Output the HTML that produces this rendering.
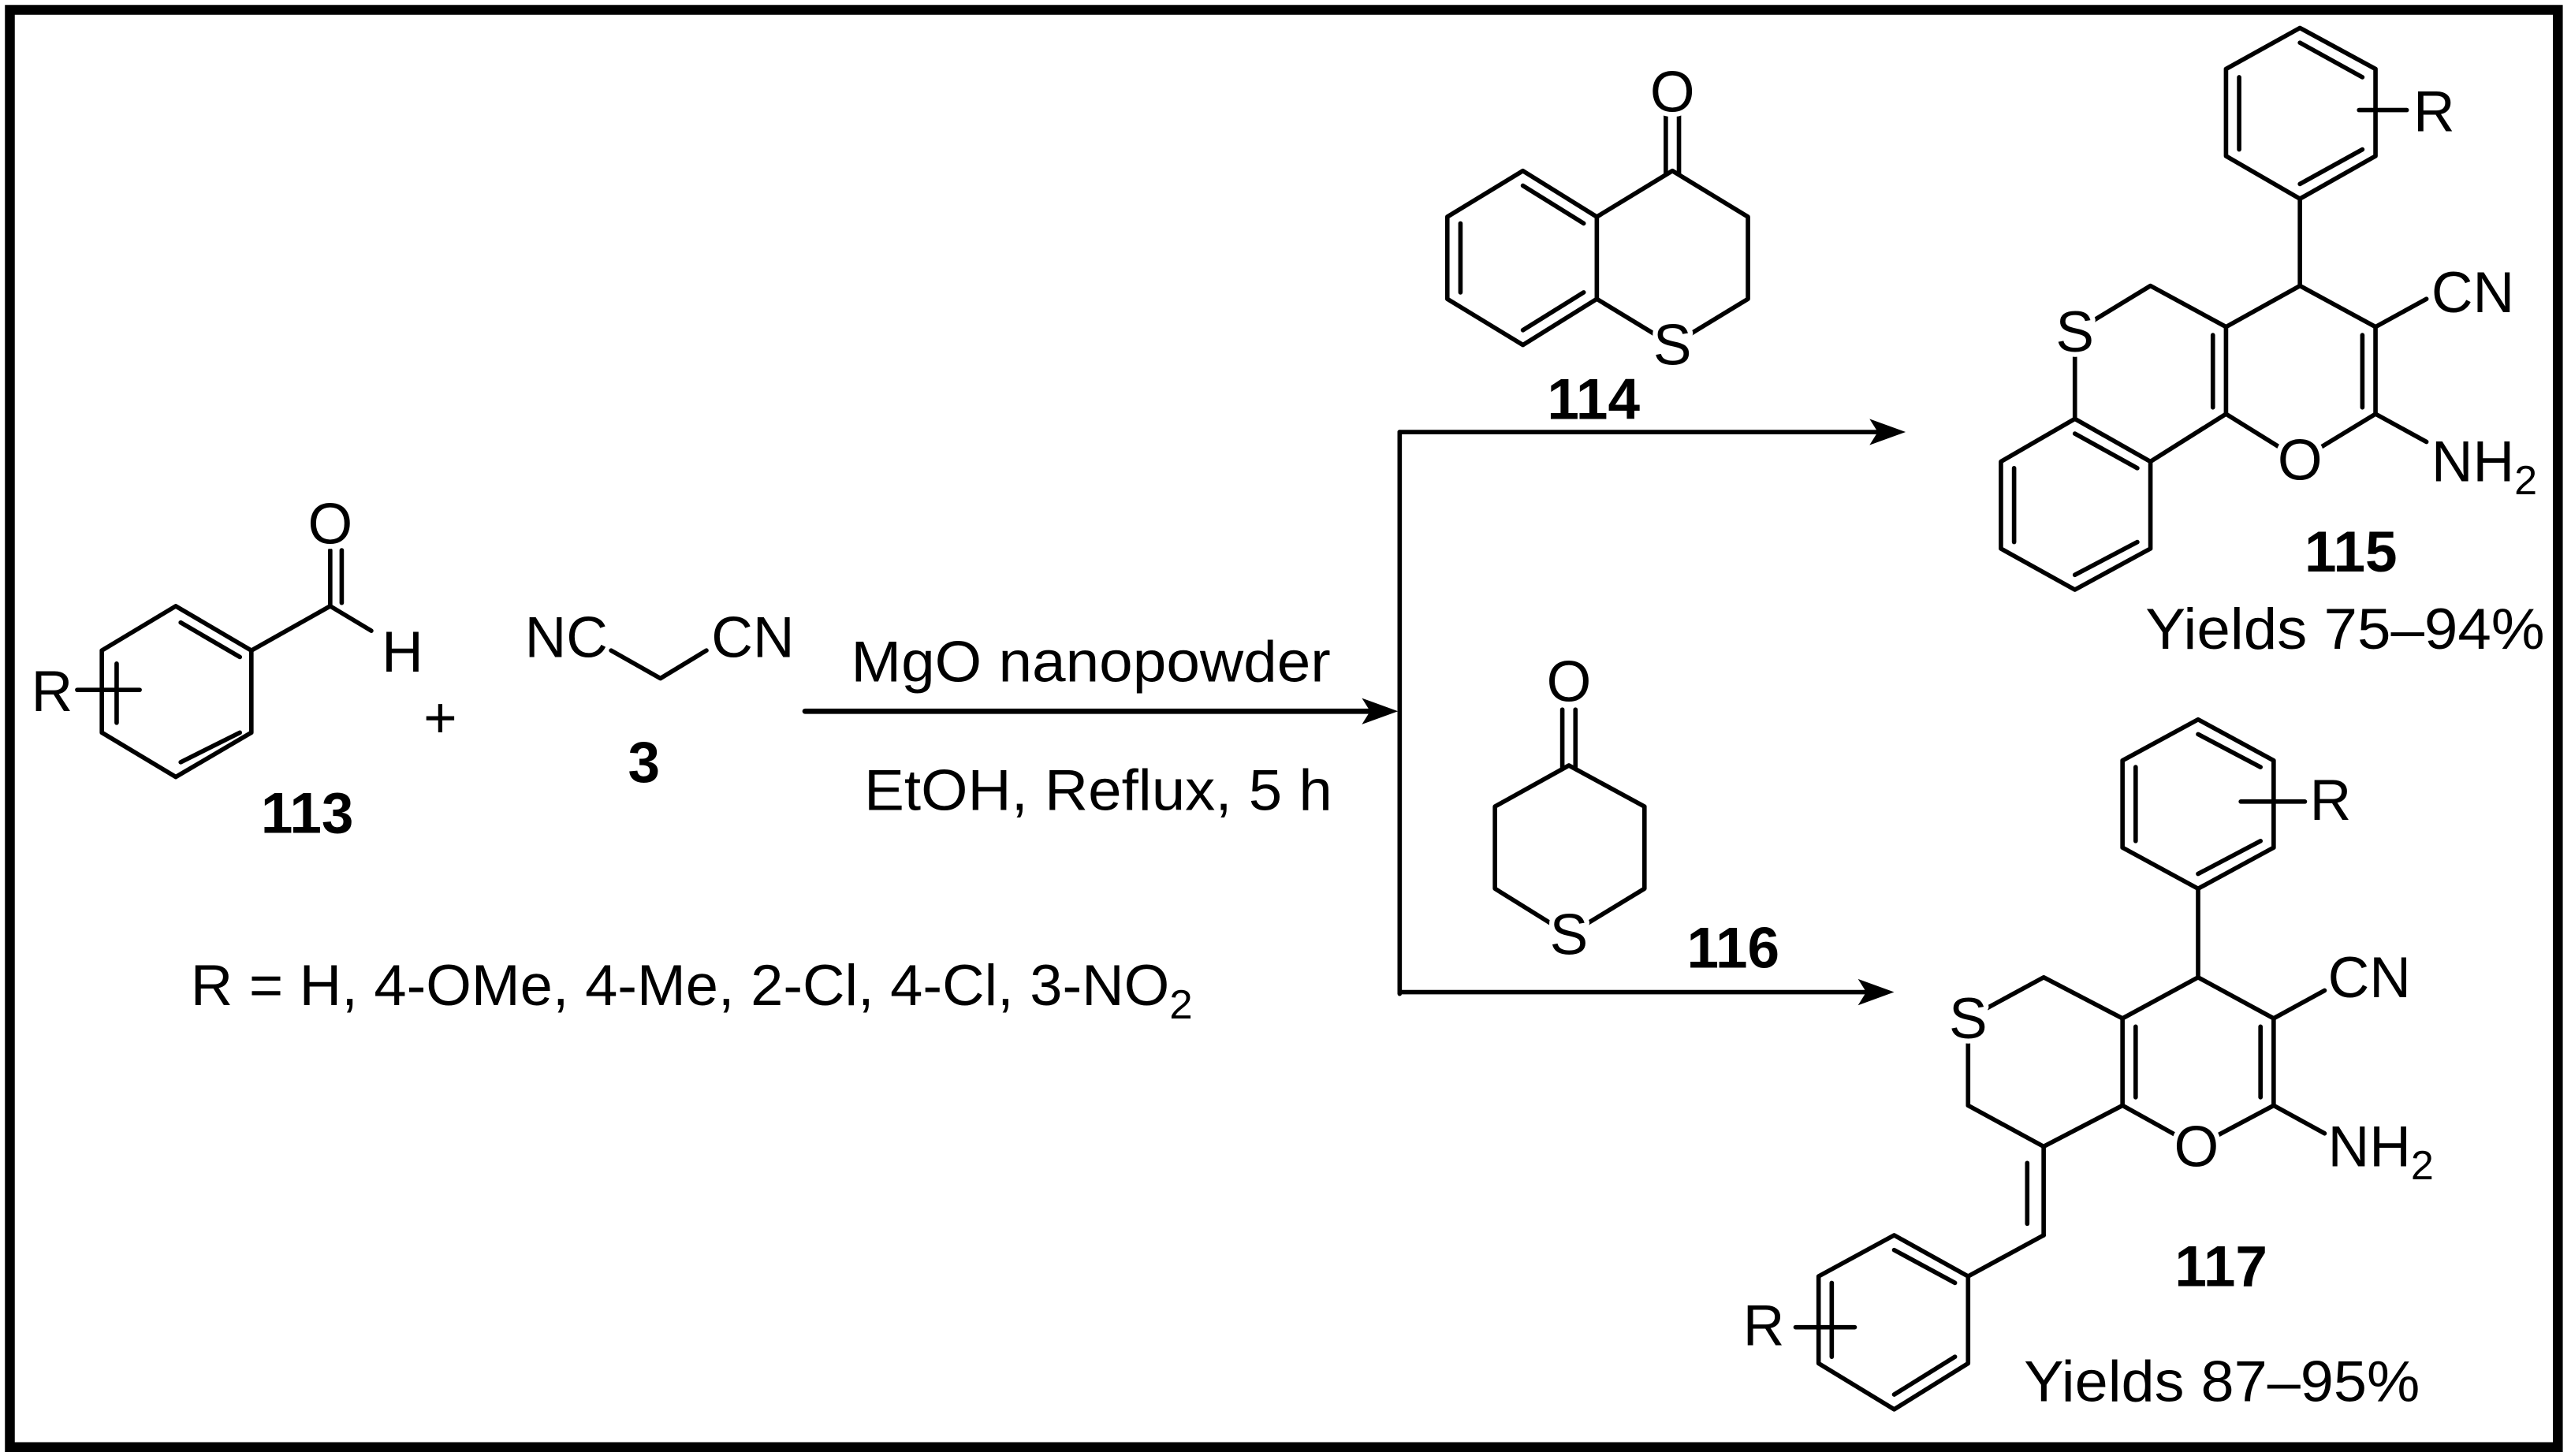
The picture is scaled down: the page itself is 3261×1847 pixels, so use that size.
<!DOCTYPE html>
<html><head><meta charset="utf-8"><style>
html,body{margin:0;padding:0;background:#fff;}
svg{display:block;}
text{font-family:"Liberation Sans",Arial,sans-serif;font-size:35px;fill:#000;}
.b{font-weight:bold;}
.m{stroke:#fff;stroke-width:6px;paint-order:stroke;stroke-linejoin:round;}
</style></head><body>
<svg width="3261" height="1847" viewBox="0 0 1565 886.4" preserveAspectRatio="none" xmlns="http://www.w3.org/2000/svg">
<rect x="0" y="0" width="1565" height="886.4" fill="#fff"/>
<rect x="6" y="6" width="1551" height="875" fill="none" stroke="#000" stroke-width="6"/>
<g stroke="#000" stroke-width="2.7" fill="none" stroke-linecap="round" stroke-linejoin="round">
<!-- 113 -->
<polygon points="107,369 153,396 153,446 107,473 62,446 62,396"/>
<line x1="110" y1="379" x2="146" y2="400"/>
<line x1="71" y1="404" x2="71" y2="440"/>
<line x1="110" y1="464" x2="146" y2="446"/>
<polyline points="153,396 201,369 226,384"/>
<line x1="201" y1="369" x2="201" y2="335"/>
<line x1="208" y1="367" x2="208" y2="335"/>
<line x1="47" y1="420" x2="85" y2="420"/>
<!-- 3 -->
<polyline points="372,396 402,413 430,396"/>
<!-- arrows -->
<line x1="490" y1="433" x2="838" y2="433" stroke-width="3.2"/>
<line x1="852" y1="263" x2="852" y2="605"/>
<line x1="852" y1="263" x2="1145" y2="263"/>
<line x1="852" y1="604" x2="1138" y2="604"/>
<!-- 114 -->
<polygon points="927,104 972,132 972,182 927,210 881,182 881,132"/>
<line x1="927" y1="113" x2="964" y2="136"/>
<line x1="889" y1="136" x2="889" y2="178"/>
<line x1="964" y1="178" x2="927" y2="201"/>
<polyline points="972,132 1018,104 1064,132 1064,182 1018,210 972,182"/>
<line x1="1014" y1="106" x2="1014" y2="70"/>
<line x1="1022" y1="106" x2="1022" y2="70"/>
<!-- 116 -->
<polygon points="955,466 1001,491 1001,541 955,569 910,541 910,491"/>
<line x1="951" y1="468" x2="951" y2="432"/>
<line x1="959" y1="468" x2="959" y2="432"/>
<!-- 115 -->
<polygon points="1400,17 1446,42 1446,95 1400,121 1355,95 1355,42"/>
<line x1="1400" y1="26" x2="1438" y2="47"/>
<line x1="1363" y1="47" x2="1363" y2="91"/>
<line x1="1438" y1="91" x2="1400" y2="112"/>
<line x1="1436" y1="67" x2="1465" y2="67"/>
<line x1="1400" y1="121" x2="1400" y2="174"/>
<polygon points="1400,174 1446,199 1446,252 1400,280 1355,252 1355,199"/>
<line x1="1438" y1="204" x2="1438" y2="248"/>
<line x1="1347" y1="204" x2="1347" y2="248"/>
<polyline points="1355,199 1309,174 1263,202 1263,255"/>
<line x1="1309" y1="281" x2="1355" y2="252"/>
<polygon points="1263,255 1309,281 1309,334 1263,359 1218,334 1218,281"/>
<line x1="1263" y1="264" x2="1301" y2="285"/>
<line x1="1301" y1="330" x2="1263" y2="350"/>
<line x1="1226" y1="330" x2="1226" y2="285"/>
<line x1="1446" y1="199" x2="1477" y2="182"/>
<line x1="1446" y1="252" x2="1477" y2="269"/>
<!-- 117 -->
<polygon points="1338,438 1384,463 1384,516 1338,541 1292,516 1292,463"/>
<line x1="1338" y1="447" x2="1376" y2="467"/>
<line x1="1300" y1="467" x2="1300" y2="512"/>
<line x1="1376" y1="512" x2="1338" y2="532"/>
<line x1="1364" y1="488" x2="1403" y2="488"/>
<line x1="1338" y1="541" x2="1338" y2="595"/>
<polygon points="1338,595 1384,620 1384,673 1337,698 1292,673 1292,620"/>
<line x1="1376" y1="625" x2="1376" y2="668"/>
<line x1="1300" y1="625" x2="1300" y2="668"/>
<polyline points="1292,620 1244,595 1198,620 1198,673 1244,698 1292,673"/>
<line x1="1244" y1="698" x2="1244" y2="752"/>
<line x1="1234" y1="708" x2="1234" y2="745"/>
<line x1="1244" y1="752" x2="1198" y2="777"/>
<polygon points="1198,777 1198,830 1153,858 1107,830 1107,777 1153,752"/>
<line x1="1190" y1="781" x2="1153" y2="761"/>
<line x1="1190" y1="826" x2="1153" y2="849"/>
<line x1="1115" y1="826" x2="1115" y2="781"/>
<line x1="1093" y1="808" x2="1129" y2="808"/>
<line x1="1384" y1="620" x2="1415" y2="603"/>
<line x1="1384" y1="673" x2="1415" y2="690"/>
</g>
<g fill="#000">
<polygon points="851,433 829,425 834,433 829,441"/>
<polygon points="1160,263 1138,255 1143,263 1138,271"/>
<polygon points="1153,604 1131,596 1136,604 1131,612"/>
</g>
<!-- white masks behind ring heteroatoms -->
<g fill="#fff">
<circle cx="1018" cy="210" r="13"/>
<circle cx="955" cy="569" r="13"/>
<circle cx="1263" cy="202" r="13"/>
<circle cx="1400" cy="280" r="14"/>
<circle cx="1198" cy="620" r="13"/>
<circle cx="1337" cy="698" r="14"/>
</g>
<!-- labels -->
<text x="201" y="331" text-anchor="middle" class="m">O</text>
<text x="245" y="409" text-anchor="middle">H</text>
<text x="19" y="433">R</text>
<text x="187" y="507" text-anchor="middle" class="b">113</text>
<text x="268" y="449" text-anchor="middle">+</text>
<text x="370" y="400" text-anchor="end">NC</text>
<text x="433" y="400">CN</text>
<text x="392" y="476" text-anchor="middle" class="b">3</text>
<text x="518" y="415" textLength="292" lengthAdjust="spacingAndGlyphs">MgO nanopowder</text>
<text x="526" y="493" textLength="285" lengthAdjust="spacingAndGlyphs">EtOH, Reflux, 5 h</text>
<text x="116" y="612" textLength="610" lengthAdjust="spacingAndGlyphs">R = H, 4-OMe, 4-Me, 2-Cl, 4-Cl, 3-NO<tspan font-size="25" dy="8">2</tspan></text>
<text x="1018" y="68" text-anchor="middle" class="m">O</text>
<text x="1018" y="222" text-anchor="middle" class="m">S</text>
<text x="970" y="255" text-anchor="middle" class="b">114</text>
<text x="955" y="427" text-anchor="middle" class="m">O</text>
<text x="955" y="581" text-anchor="middle" class="m">S</text>
<text x="1055" y="589" text-anchor="middle" class="b">116</text>
<text x="1469" y="80">R</text>
<text x="1263" y="214" text-anchor="middle" class="m">S</text>
<text x="1400" y="292" text-anchor="middle" class="m">O</text>
<text x="1480" y="190">CN</text>
<text x="1480" y="293">NH<tspan font-size="25" dy="8">2</tspan></text>
<text x="1431" y="348" text-anchor="middle" class="b">115</text>
<text x="1306" y="395" textLength="243" lengthAdjust="spacingAndGlyphs">Yields 75–94%</text>
<text x="1406" y="499">R</text>
<text x="1198" y="632" text-anchor="middle" class="m">S</text>
<text x="1337" y="710" text-anchor="middle" class="m">O</text>
<text x="1417" y="607">CN</text>
<text x="1417" y="710">NH<tspan font-size="25" dy="8">2</tspan></text>
<text x="1352" y="783" text-anchor="middle" class="b">117</text>
<text x="1061" y="819">R</text>
<text x="1232" y="853" textLength="241" lengthAdjust="spacingAndGlyphs">Yields 87–95%</text>
</svg>
</body></html>
